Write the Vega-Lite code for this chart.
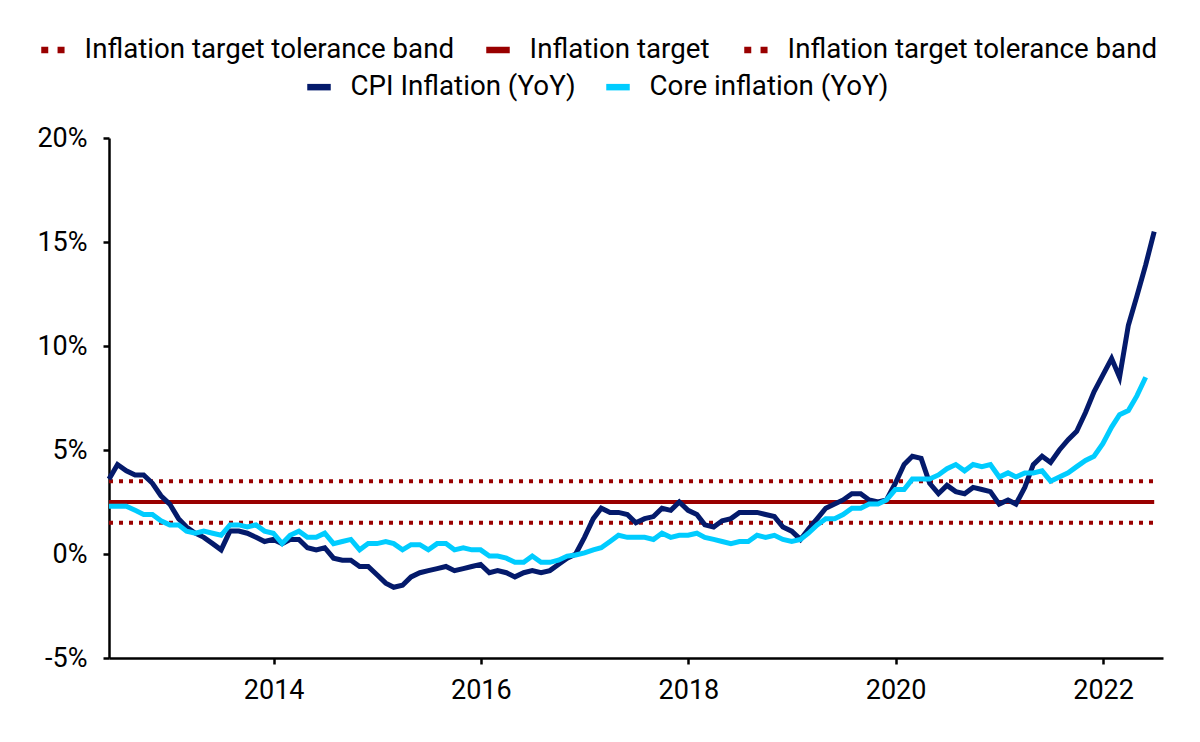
{
  "$schema": "https://vega.github.io/schema/vega-lite/v6.json",
  "width": 1054,
  "height": 520,
  "autosize": {"type": "none"},
  "padding": {"left": 109, "top": 138, "right": 37, "bottom": 84},
  "datasets": {
    "reference": [
      {"date": "2012-05-31", "line": "upper", "value": 3.5},
      {"date": "2022-06-30", "line": "upper", "value": 3.5},
      {"date": "2012-05-31", "line": "target", "value": 2.5},
      {"date": "2022-06-30", "line": "target", "value": 2.5},
      {"date": "2012-05-31", "line": "lower", "value": 1.5},
      {"date": "2022-06-30", "line": "lower", "value": 1.5}
    ],
    "inflation": [
      {"date": "2012-05-31", "series": "CPI Inflation (YoY)", "value": 3.6},
      {"date": "2012-06-30", "series": "CPI Inflation (YoY)", "value": 4.3},
      {"date": "2012-07-31", "series": "CPI Inflation (YoY)", "value": 4.0},
      {"date": "2012-08-31", "series": "CPI Inflation (YoY)", "value": 3.8},
      {"date": "2012-09-30", "series": "CPI Inflation (YoY)", "value": 3.8},
      {"date": "2012-10-31", "series": "CPI Inflation (YoY)", "value": 3.4},
      {"date": "2012-11-30", "series": "CPI Inflation (YoY)", "value": 2.8},
      {"date": "2012-12-31", "series": "CPI Inflation (YoY)", "value": 2.4},
      {"date": "2013-01-31", "series": "CPI Inflation (YoY)", "value": 1.7},
      {"date": "2013-02-28", "series": "CPI Inflation (YoY)", "value": 1.3},
      {"date": "2013-03-31", "series": "CPI Inflation (YoY)", "value": 1.0},
      {"date": "2013-04-30", "series": "CPI Inflation (YoY)", "value": 0.8},
      {"date": "2013-05-31", "series": "CPI Inflation (YoY)", "value": 0.5},
      {"date": "2013-06-30", "series": "CPI Inflation (YoY)", "value": 0.2},
      {"date": "2013-07-31", "series": "CPI Inflation (YoY)", "value": 1.1},
      {"date": "2013-08-31", "series": "CPI Inflation (YoY)", "value": 1.1},
      {"date": "2013-09-30", "series": "CPI Inflation (YoY)", "value": 1.0},
      {"date": "2013-10-31", "series": "CPI Inflation (YoY)", "value": 0.8},
      {"date": "2013-11-30", "series": "CPI Inflation (YoY)", "value": 0.6},
      {"date": "2013-12-31", "series": "CPI Inflation (YoY)", "value": 0.7},
      {"date": "2014-01-31", "series": "CPI Inflation (YoY)", "value": 0.5},
      {"date": "2014-02-28", "series": "CPI Inflation (YoY)", "value": 0.7},
      {"date": "2014-03-31", "series": "CPI Inflation (YoY)", "value": 0.7},
      {"date": "2014-04-30", "series": "CPI Inflation (YoY)", "value": 0.3},
      {"date": "2014-05-31", "series": "CPI Inflation (YoY)", "value": 0.2},
      {"date": "2014-06-30", "series": "CPI Inflation (YoY)", "value": 0.3},
      {"date": "2014-07-31", "series": "CPI Inflation (YoY)", "value": -0.2},
      {"date": "2014-08-31", "series": "CPI Inflation (YoY)", "value": -0.3},
      {"date": "2014-09-30", "series": "CPI Inflation (YoY)", "value": -0.3},
      {"date": "2014-10-31", "series": "CPI Inflation (YoY)", "value": -0.6},
      {"date": "2014-11-30", "series": "CPI Inflation (YoY)", "value": -0.6},
      {"date": "2014-12-31", "series": "CPI Inflation (YoY)", "value": -1.0},
      {"date": "2015-01-31", "series": "CPI Inflation (YoY)", "value": -1.4},
      {"date": "2015-02-28", "series": "CPI Inflation (YoY)", "value": -1.6},
      {"date": "2015-03-31", "series": "CPI Inflation (YoY)", "value": -1.5},
      {"date": "2015-04-30", "series": "CPI Inflation (YoY)", "value": -1.1},
      {"date": "2015-05-31", "series": "CPI Inflation (YoY)", "value": -0.9},
      {"date": "2015-06-30", "series": "CPI Inflation (YoY)", "value": -0.8},
      {"date": "2015-07-31", "series": "CPI Inflation (YoY)", "value": -0.7},
      {"date": "2015-08-31", "series": "CPI Inflation (YoY)", "value": -0.6},
      {"date": "2015-09-30", "series": "CPI Inflation (YoY)", "value": -0.8},
      {"date": "2015-10-31", "series": "CPI Inflation (YoY)", "value": -0.7},
      {"date": "2015-11-30", "series": "CPI Inflation (YoY)", "value": -0.6},
      {"date": "2015-12-31", "series": "CPI Inflation (YoY)", "value": -0.5},
      {"date": "2016-01-31", "series": "CPI Inflation (YoY)", "value": -0.9},
      {"date": "2016-02-29", "series": "CPI Inflation (YoY)", "value": -0.8},
      {"date": "2016-03-31", "series": "CPI Inflation (YoY)", "value": -0.9},
      {"date": "2016-04-30", "series": "CPI Inflation (YoY)", "value": -1.1},
      {"date": "2016-05-31", "series": "CPI Inflation (YoY)", "value": -0.9},
      {"date": "2016-06-30", "series": "CPI Inflation (YoY)", "value": -0.8},
      {"date": "2016-07-31", "series": "CPI Inflation (YoY)", "value": -0.9},
      {"date": "2016-08-31", "series": "CPI Inflation (YoY)", "value": -0.8},
      {"date": "2016-09-30", "series": "CPI Inflation (YoY)", "value": -0.5},
      {"date": "2016-10-31", "series": "CPI Inflation (YoY)", "value": -0.2},
      {"date": "2016-11-30", "series": "CPI Inflation (YoY)", "value": 0.0},
      {"date": "2016-12-31", "series": "CPI Inflation (YoY)", "value": 0.8},
      {"date": "2017-01-31", "series": "CPI Inflation (YoY)", "value": 1.7},
      {"date": "2017-02-28", "series": "CPI Inflation (YoY)", "value": 2.2},
      {"date": "2017-03-31", "series": "CPI Inflation (YoY)", "value": 2.0},
      {"date": "2017-04-30", "series": "CPI Inflation (YoY)", "value": 2.0},
      {"date": "2017-05-31", "series": "CPI Inflation (YoY)", "value": 1.9},
      {"date": "2017-06-30", "series": "CPI Inflation (YoY)", "value": 1.5},
      {"date": "2017-07-31", "series": "CPI Inflation (YoY)", "value": 1.7},
      {"date": "2017-08-31", "series": "CPI Inflation (YoY)", "value": 1.8},
      {"date": "2017-09-30", "series": "CPI Inflation (YoY)", "value": 2.2},
      {"date": "2017-10-31", "series": "CPI Inflation (YoY)", "value": 2.1},
      {"date": "2017-11-30", "series": "CPI Inflation (YoY)", "value": 2.5},
      {"date": "2017-12-31", "series": "CPI Inflation (YoY)", "value": 2.1},
      {"date": "2018-01-31", "series": "CPI Inflation (YoY)", "value": 1.9},
      {"date": "2018-02-28", "series": "CPI Inflation (YoY)", "value": 1.4},
      {"date": "2018-03-31", "series": "CPI Inflation (YoY)", "value": 1.3},
      {"date": "2018-04-30", "series": "CPI Inflation (YoY)", "value": 1.6},
      {"date": "2018-05-31", "series": "CPI Inflation (YoY)", "value": 1.7},
      {"date": "2018-06-30", "series": "CPI Inflation (YoY)", "value": 2.0},
      {"date": "2018-07-31", "series": "CPI Inflation (YoY)", "value": 2.0},
      {"date": "2018-08-31", "series": "CPI Inflation (YoY)", "value": 2.0},
      {"date": "2018-09-30", "series": "CPI Inflation (YoY)", "value": 1.9},
      {"date": "2018-10-31", "series": "CPI Inflation (YoY)", "value": 1.8},
      {"date": "2018-11-30", "series": "CPI Inflation (YoY)", "value": 1.3},
      {"date": "2018-12-31", "series": "CPI Inflation (YoY)", "value": 1.1},
      {"date": "2019-01-31", "series": "CPI Inflation (YoY)", "value": 0.7},
      {"date": "2019-02-28", "series": "CPI Inflation (YoY)", "value": 1.2},
      {"date": "2019-03-31", "series": "CPI Inflation (YoY)", "value": 1.7},
      {"date": "2019-04-30", "series": "CPI Inflation (YoY)", "value": 2.2},
      {"date": "2019-05-31", "series": "CPI Inflation (YoY)", "value": 2.4},
      {"date": "2019-06-30", "series": "CPI Inflation (YoY)", "value": 2.6},
      {"date": "2019-07-31", "series": "CPI Inflation (YoY)", "value": 2.9},
      {"date": "2019-08-31", "series": "CPI Inflation (YoY)", "value": 2.9},
      {"date": "2019-09-30", "series": "CPI Inflation (YoY)", "value": 2.6},
      {"date": "2019-10-31", "series": "CPI Inflation (YoY)", "value": 2.5},
      {"date": "2019-11-30", "series": "CPI Inflation (YoY)", "value": 2.6},
      {"date": "2019-12-31", "series": "CPI Inflation (YoY)", "value": 3.4},
      {"date": "2020-01-31", "series": "CPI Inflation (YoY)", "value": 4.3},
      {"date": "2020-02-29", "series": "CPI Inflation (YoY)", "value": 4.7},
      {"date": "2020-03-31", "series": "CPI Inflation (YoY)", "value": 4.6},
      {"date": "2020-04-30", "series": "CPI Inflation (YoY)", "value": 3.4},
      {"date": "2020-05-31", "series": "CPI Inflation (YoY)", "value": 2.9},
      {"date": "2020-06-30", "series": "CPI Inflation (YoY)", "value": 3.3},
      {"date": "2020-07-31", "series": "CPI Inflation (YoY)", "value": 3.0},
      {"date": "2020-08-31", "series": "CPI Inflation (YoY)", "value": 2.9},
      {"date": "2020-09-30", "series": "CPI Inflation (YoY)", "value": 3.2},
      {"date": "2020-10-31", "series": "CPI Inflation (YoY)", "value": 3.1},
      {"date": "2020-11-30", "series": "CPI Inflation (YoY)", "value": 3.0},
      {"date": "2020-12-31", "series": "CPI Inflation (YoY)", "value": 2.4},
      {"date": "2021-01-31", "series": "CPI Inflation (YoY)", "value": 2.6},
      {"date": "2021-02-28", "series": "CPI Inflation (YoY)", "value": 2.4},
      {"date": "2021-03-31", "series": "CPI Inflation (YoY)", "value": 3.2},
      {"date": "2021-04-30", "series": "CPI Inflation (YoY)", "value": 4.3},
      {"date": "2021-05-31", "series": "CPI Inflation (YoY)", "value": 4.7},
      {"date": "2021-06-30", "series": "CPI Inflation (YoY)", "value": 4.4},
      {"date": "2021-07-31", "series": "CPI Inflation (YoY)", "value": 5.0},
      {"date": "2021-08-31", "series": "CPI Inflation (YoY)", "value": 5.5},
      {"date": "2021-09-30", "series": "CPI Inflation (YoY)", "value": 5.9},
      {"date": "2021-10-31", "series": "CPI Inflation (YoY)", "value": 6.8},
      {"date": "2021-11-30", "series": "CPI Inflation (YoY)", "value": 7.8},
      {"date": "2021-12-31", "series": "CPI Inflation (YoY)", "value": 8.6},
      {"date": "2022-01-31", "series": "CPI Inflation (YoY)", "value": 9.4},
      {"date": "2022-02-28", "series": "CPI Inflation (YoY)", "value": 8.5},
      {"date": "2022-03-31", "series": "CPI Inflation (YoY)", "value": 11.0},
      {"date": "2022-04-30", "series": "CPI Inflation (YoY)", "value": 12.4},
      {"date": "2022-05-31", "series": "CPI Inflation (YoY)", "value": 13.9},
      {"date": "2022-06-30", "series": "CPI Inflation (YoY)", "value": 15.5},
      {"date": "2012-05-31", "series": "Core inflation (YoY)", "value": 2.3},
      {"date": "2012-06-30", "series": "Core inflation (YoY)", "value": 2.3},
      {"date": "2012-07-31", "series": "Core inflation (YoY)", "value": 2.3},
      {"date": "2012-08-31", "series": "Core inflation (YoY)", "value": 2.1},
      {"date": "2012-09-30", "series": "Core inflation (YoY)", "value": 1.9},
      {"date": "2012-10-31", "series": "Core inflation (YoY)", "value": 1.9},
      {"date": "2012-11-30", "series": "Core inflation (YoY)", "value": 1.6},
      {"date": "2012-12-31", "series": "Core inflation (YoY)", "value": 1.4},
      {"date": "2013-01-31", "series": "Core inflation (YoY)", "value": 1.4},
      {"date": "2013-02-28", "series": "Core inflation (YoY)", "value": 1.1},
      {"date": "2013-03-31", "series": "Core inflation (YoY)", "value": 1.0},
      {"date": "2013-04-30", "series": "Core inflation (YoY)", "value": 1.1},
      {"date": "2013-05-31", "series": "Core inflation (YoY)", "value": 1.0},
      {"date": "2013-06-30", "series": "Core inflation (YoY)", "value": 0.9},
      {"date": "2013-07-31", "series": "Core inflation (YoY)", "value": 1.4},
      {"date": "2013-08-31", "series": "Core inflation (YoY)", "value": 1.4},
      {"date": "2013-09-30", "series": "Core inflation (YoY)", "value": 1.3},
      {"date": "2013-10-31", "series": "Core inflation (YoY)", "value": 1.4},
      {"date": "2013-11-30", "series": "Core inflation (YoY)", "value": 1.1},
      {"date": "2013-12-31", "series": "Core inflation (YoY)", "value": 1.0},
      {"date": "2014-01-31", "series": "Core inflation (YoY)", "value": 0.5},
      {"date": "2014-02-28", "series": "Core inflation (YoY)", "value": 0.9},
      {"date": "2014-03-31", "series": "Core inflation (YoY)", "value": 1.1},
      {"date": "2014-04-30", "series": "Core inflation (YoY)", "value": 0.8},
      {"date": "2014-05-31", "series": "Core inflation (YoY)", "value": 0.8},
      {"date": "2014-06-30", "series": "Core inflation (YoY)", "value": 1.0},
      {"date": "2014-07-31", "series": "Core inflation (YoY)", "value": 0.5},
      {"date": "2014-08-31", "series": "Core inflation (YoY)", "value": 0.6},
      {"date": "2014-09-30", "series": "Core inflation (YoY)", "value": 0.7},
      {"date": "2014-10-31", "series": "Core inflation (YoY)", "value": 0.2},
      {"date": "2014-11-30", "series": "Core inflation (YoY)", "value": 0.5},
      {"date": "2014-12-31", "series": "Core inflation (YoY)", "value": 0.5},
      {"date": "2015-01-31", "series": "Core inflation (YoY)", "value": 0.6},
      {"date": "2015-02-28", "series": "Core inflation (YoY)", "value": 0.5},
      {"date": "2015-03-31", "series": "Core inflation (YoY)", "value": 0.2},
      {"date": "2015-04-30", "series": "Core inflation (YoY)", "value": 0.45},
      {"date": "2015-05-31", "series": "Core inflation (YoY)", "value": 0.45},
      {"date": "2015-06-30", "series": "Core inflation (YoY)", "value": 0.2},
      {"date": "2015-07-31", "series": "Core inflation (YoY)", "value": 0.5},
      {"date": "2015-08-31", "series": "Core inflation (YoY)", "value": 0.5},
      {"date": "2015-09-30", "series": "Core inflation (YoY)", "value": 0.2},
      {"date": "2015-10-31", "series": "Core inflation (YoY)", "value": 0.3},
      {"date": "2015-11-30", "series": "Core inflation (YoY)", "value": 0.2},
      {"date": "2015-12-31", "series": "Core inflation (YoY)", "value": 0.2},
      {"date": "2016-01-31", "series": "Core inflation (YoY)", "value": -0.1},
      {"date": "2016-02-29", "series": "Core inflation (YoY)", "value": -0.1},
      {"date": "2016-03-31", "series": "Core inflation (YoY)", "value": -0.2},
      {"date": "2016-04-30", "series": "Core inflation (YoY)", "value": -0.4},
      {"date": "2016-05-31", "series": "Core inflation (YoY)", "value": -0.4},
      {"date": "2016-06-30", "series": "Core inflation (YoY)", "value": -0.1},
      {"date": "2016-07-31", "series": "Core inflation (YoY)", "value": -0.4},
      {"date": "2016-08-31", "series": "Core inflation (YoY)", "value": -0.4},
      {"date": "2016-09-30", "series": "Core inflation (YoY)", "value": -0.3},
      {"date": "2016-10-31", "series": "Core inflation (YoY)", "value": -0.1},
      {"date": "2016-11-30", "series": "Core inflation (YoY)", "value": -0.05},
      {"date": "2016-12-31", "series": "Core inflation (YoY)", "value": 0.05},
      {"date": "2017-01-31", "series": "Core inflation (YoY)", "value": 0.2},
      {"date": "2017-02-28", "series": "Core inflation (YoY)", "value": 0.3},
      {"date": "2017-03-31", "series": "Core inflation (YoY)", "value": 0.6},
      {"date": "2017-04-30", "series": "Core inflation (YoY)", "value": 0.9},
      {"date": "2017-05-31", "series": "Core inflation (YoY)", "value": 0.8},
      {"date": "2017-06-30", "series": "Core inflation (YoY)", "value": 0.8},
      {"date": "2017-07-31", "series": "Core inflation (YoY)", "value": 0.8},
      {"date": "2017-08-31", "series": "Core inflation (YoY)", "value": 0.7},
      {"date": "2017-09-30", "series": "Core inflation (YoY)", "value": 1.0},
      {"date": "2017-10-31", "series": "Core inflation (YoY)", "value": 0.8},
      {"date": "2017-11-30", "series": "Core inflation (YoY)", "value": 0.9},
      {"date": "2017-12-31", "series": "Core inflation (YoY)", "value": 0.9},
      {"date": "2018-01-31", "series": "Core inflation (YoY)", "value": 1.0},
      {"date": "2018-02-28", "series": "Core inflation (YoY)", "value": 0.8},
      {"date": "2018-03-31", "series": "Core inflation (YoY)", "value": 0.7},
      {"date": "2018-04-30", "series": "Core inflation (YoY)", "value": 0.6},
      {"date": "2018-05-31", "series": "Core inflation (YoY)", "value": 0.5},
      {"date": "2018-06-30", "series": "Core inflation (YoY)", "value": 0.6},
      {"date": "2018-07-31", "series": "Core inflation (YoY)", "value": 0.6},
      {"date": "2018-08-31", "series": "Core inflation (YoY)", "value": 0.9},
      {"date": "2018-09-30", "series": "Core inflation (YoY)", "value": 0.8},
      {"date": "2018-10-31", "series": "Core inflation (YoY)", "value": 0.9},
      {"date": "2018-11-30", "series": "Core inflation (YoY)", "value": 0.7},
      {"date": "2018-12-31", "series": "Core inflation (YoY)", "value": 0.6},
      {"date": "2019-01-31", "series": "Core inflation (YoY)", "value": 0.7},
      {"date": "2019-02-28", "series": "Core inflation (YoY)", "value": 1.0},
      {"date": "2019-03-31", "series": "Core inflation (YoY)", "value": 1.4},
      {"date": "2019-04-30", "series": "Core inflation (YoY)", "value": 1.7},
      {"date": "2019-05-31", "series": "Core inflation (YoY)", "value": 1.7},
      {"date": "2019-06-30", "series": "Core inflation (YoY)", "value": 1.9},
      {"date": "2019-07-31", "series": "Core inflation (YoY)", "value": 2.2},
      {"date": "2019-08-31", "series": "Core inflation (YoY)", "value": 2.2},
      {"date": "2019-09-30", "series": "Core inflation (YoY)", "value": 2.4},
      {"date": "2019-10-31", "series": "Core inflation (YoY)", "value": 2.4},
      {"date": "2019-11-30", "series": "Core inflation (YoY)", "value": 2.6},
      {"date": "2019-12-31", "series": "Core inflation (YoY)", "value": 3.1},
      {"date": "2020-01-31", "series": "Core inflation (YoY)", "value": 3.1},
      {"date": "2020-02-29", "series": "Core inflation (YoY)", "value": 3.6},
      {"date": "2020-03-31", "series": "Core inflation (YoY)", "value": 3.6},
      {"date": "2020-04-30", "series": "Core inflation (YoY)", "value": 3.6},
      {"date": "2020-05-31", "series": "Core inflation (YoY)", "value": 3.8},
      {"date": "2020-06-30", "series": "Core inflation (YoY)", "value": 4.1},
      {"date": "2020-07-31", "series": "Core inflation (YoY)", "value": 4.3},
      {"date": "2020-08-31", "series": "Core inflation (YoY)", "value": 4.0},
      {"date": "2020-09-30", "series": "Core inflation (YoY)", "value": 4.3},
      {"date": "2020-10-31", "series": "Core inflation (YoY)", "value": 4.2},
      {"date": "2020-11-30", "series": "Core inflation (YoY)", "value": 4.3},
      {"date": "2020-12-31", "series": "Core inflation (YoY)", "value": 3.7},
      {"date": "2021-01-31", "series": "Core inflation (YoY)", "value": 3.9},
      {"date": "2021-02-28", "series": "Core inflation (YoY)", "value": 3.7},
      {"date": "2021-03-31", "series": "Core inflation (YoY)", "value": 3.9},
      {"date": "2021-04-30", "series": "Core inflation (YoY)", "value": 3.9},
      {"date": "2021-05-31", "series": "Core inflation (YoY)", "value": 4.0},
      {"date": "2021-06-30", "series": "Core inflation (YoY)", "value": 3.5},
      {"date": "2021-07-31", "series": "Core inflation (YoY)", "value": 3.7},
      {"date": "2021-08-31", "series": "Core inflation (YoY)", "value": 3.9},
      {"date": "2021-09-30", "series": "Core inflation (YoY)", "value": 4.2},
      {"date": "2021-10-31", "series": "Core inflation (YoY)", "value": 4.5},
      {"date": "2021-11-30", "series": "Core inflation (YoY)", "value": 4.7},
      {"date": "2021-12-31", "series": "Core inflation (YoY)", "value": 5.3},
      {"date": "2022-01-31", "series": "Core inflation (YoY)", "value": 6.1},
      {"date": "2022-02-28", "series": "Core inflation (YoY)", "value": 6.7},
      {"date": "2022-03-31", "series": "Core inflation (YoY)", "value": 6.9},
      {"date": "2022-04-30", "series": "Core inflation (YoY)", "value": 7.6},
      {"date": "2022-05-31", "series": "Core inflation (YoY)", "value": 8.5}
    ]
  },
  "layer": [
    {
      "data": {"name": "reference"},
      "transform": [{"filter": "datum.line === 'upper'"}],
      "mark": {"type": "line", "strokeWidth": 4, "strokeCap": "butt", "strokeDash": [4, 6]},
      "encoding": {
        "x": {
          "field": "date",
          "type": "temporal",
          "scale": {
            "type": "utc",
            "domain": [
              {"year": 2012, "month": 5, "date": 31, "utc": true},
              {"year": 2022, "month": 7, "date": 31, "utc": true}
            ]
          },
          "axis": {
            "title": null,
            "format": "%Y",
            "values": [
              {"year": 2014, "utc": true},
              {"year": 2016, "utc": true},
              {"year": 2018, "utc": true},
              {"year": 2020, "utc": true},
              {"year": 2022, "utc": true}
            ],
            "labelPadding": 13
          }
        },
        "y": {
          "field": "value",
          "type": "quantitative",
          "scale": {"domain": [-5, 20], "nice": false, "zero": false},
          "axis": {
            "title": null,
            "values": [-5, 0, 5, 10, 15, 20],
            "labelExpr": "datum.value + '%'",
            "labelPadding": 16
          }
        },
        "color": {
          "field": "line",
          "type": "nominal",
          "scale": {"domain": ["upper"], "range": ["#990000"]},
          "legend": {
            "orient": "none",
            "legendX": -71,
            "legendY": -103,
            "direction": "horizontal",
            "title": null,
            "symbolDash": [7, 9.3],
            "labelExpr": "'Inflation target tolerance band'"
          }
        }
      }
    },
    {
      "data": {"name": "reference"},
      "transform": [{"filter": "datum.line === 'target'"}],
      "mark": {"type": "line", "strokeWidth": 4, "strokeCap": "butt"},
      "encoding": {
        "x": {"field": "date", "type": "temporal"},
        "y": {"field": "value", "type": "quantitative"},
        "color": {
          "field": "line",
          "type": "nominal",
          "scale": {"domain": ["target"], "range": ["#990000"]},
          "legend": {
            "orient": "none",
            "legendX": 374,
            "legendY": -103,
            "direction": "horizontal",
            "title": null,
            "labelExpr": "'Inflation target'"
          }
        }
      }
    },
    {
      "data": {"name": "reference"},
      "transform": [{"filter": "datum.line === 'lower'"}],
      "mark": {"type": "line", "strokeWidth": 4, "strokeCap": "butt", "strokeDash": [4, 6]},
      "encoding": {
        "x": {"field": "date", "type": "temporal"},
        "y": {"field": "value", "type": "quantitative"},
        "color": {
          "field": "line",
          "type": "nominal",
          "scale": {"domain": ["lower"], "range": ["#990000"]},
          "legend": {
            "orient": "none",
            "legendX": 632,
            "legendY": -103,
            "direction": "horizontal",
            "title": null,
            "symbolDash": [7, 9.3],
            "labelExpr": "'Inflation target tolerance band'"
          }
        }
      }
    },
    {
      "data": {"name": "inflation"},
      "mark": {"type": "line", "strokeWidth": 5},
      "encoding": {
        "x": {"field": "date", "type": "temporal"},
        "y": {"field": "value", "type": "quantitative"},
        "color": {
          "field": "series",
          "type": "nominal",
          "scale": {
            "domain": ["CPI Inflation (YoY)", "Core inflation (YoY)"],
            "range": ["#041a6b", "#00ccff"]
          },
          "legend": {
            "orient": "none",
            "legendX": 195,
            "legendY": -66,
            "direction": "horizontal",
            "title": null,
            "columnPadding": 17
          }
        }
      }
    }
  ],
  "resolve": {"scale": {"color": "independent"}, "legend": {"color": "independent"}},
  "config": {
    "view": {"stroke": null},
    "font": "Roboto",
    "axis": {
      "grid": false,
      "domainColor": "#000000",
      "domainWidth": 2.5,
      "tickColor": "#000000",
      "tickWidth": 2.5,
      "tickSize": 6,
      "labelFont": "Roboto",
      "labelFontSize": 27,
      "labelColor": "#000000"
    },
    "legend": {
      "symbolType": "stroke",
      "symbolStrokeWidth": 6.5,
      "symbolSize": 552,
      "labelFont": "Roboto",
      "labelFontSize": 27.7,
      "labelColor": "#000000",
      "labelOffset": 16.6,
      "columnPadding": 31,
      "padding": 0,
      "labelLimit": 600
    }
  }
}
